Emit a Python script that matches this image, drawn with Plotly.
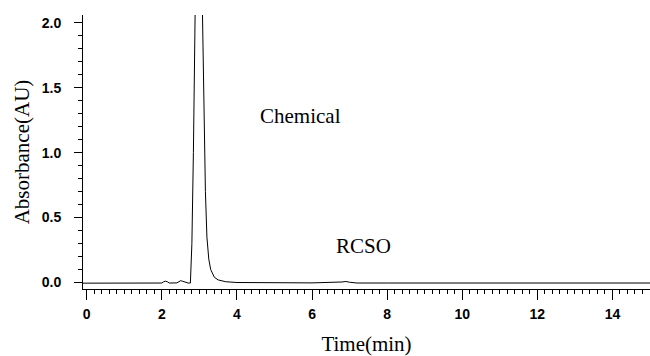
import plotly.graph_objects as go

# Chromatogram trace
time_min = [-0.1, 0.5, 1.0, 1.5, 2.0, 2.05, 2.1, 2.15, 2.2, 2.4, 2.45, 2.5, 2.55, 2.6, 2.7,
            2.76, 2.8, 2.84, 2.87, 2.9, 2.95, 3.0, 3.04, 3.08, 3.12, 3.16, 3.2, 3.25,
            3.3, 3.4, 3.5, 3.7, 4.0, 5.0, 6.0, 6.8, 6.9, 7.0, 7.2, 8.0, 10.0, 12.0, 14.0, 15.0]
absorbance = [-0.005, -0.005, -0.005, -0.005, -0.004, 0.006, 0.01, 0.005, -0.004, -0.003, 0.008,
              0.014, 0.01, 0.004, -0.004, -0.004, 0.3, 1.0, 1.8, 2.4, 2.9, 3.1, 2.8, 2.0,
              1.3, 0.7, 0.35, 0.18, 0.1, 0.04, 0.02, 0.006, 0.0, -0.003, -0.003, 0.004,
              0.008, 0.002, -0.004, -0.004, -0.004, -0.004, -0.004, -0.004]

annotations_text = ["Chemical", "RCSO"]
annotations_x = [5.68, 7.38]
annotations_y = [1.28, 0.28]

x_tickvals = [0, 2, 4, 6, 8, 10, 12, 14]
y_tickvals = [0.0, 0.5, 1.0, 1.5, 2.0]

serif = "Liberation Serif, Times New Roman, serif"
tickfam = "Liberation Sans Narrow, Arial Narrow, Liberation Sans, sans-serif"

fig = go.Figure()
fig.add_trace(go.Scatter(x=time_min, y=absorbance, mode="lines",
                         line=dict(color="black", width=1), showlegend=False))

for t, ax, ay in zip(annotations_text, annotations_x, annotations_y):
    fig.add_annotation(x=ax, y=ay, text=t, showarrow=False,
                       font=dict(family=serif, size=21, color="black"))

fig.update_layout(
    width=650, height=356,
    margin=dict(l=83, r=0, t=15, b=67),
    plot_bgcolor="white", paper_bgcolor="white",
    xaxis=dict(range=[-0.1, 15.0], tickvals=x_tickvals, tickformat="d",
               showline=True, linecolor="black", linewidth=1,
               ticks="outside", ticklen=10, tickcolor="black", tickwidth=1,
               ticklabelstandoff=2,
               minor=dict(dtick=0.2, ticks="outside", ticklen=4, tickcolor="black"),
               showgrid=False, zeroline=False,
               tickfont=dict(family=tickfam, size=14, color="black", weight="bold"),
               title=dict(text="Time(min)", standoff=17,
                          font=dict(family=serif, size=21, color="black"))),
    yaxis=dict(range=[-0.05, 2.06], tickvals=y_tickvals, tickformat=".1f",
               showline=True, linecolor="black", linewidth=1,
               ticks="outside", ticklen=8, tickcolor="black", tickwidth=1,
               ticklabelstandoff=10,
               minor=dict(dtick=0.1, ticks="outside", ticklen=4, tickcolor="black"),
               showgrid=False, zeroline=False,
               tickfont=dict(family=tickfam, size=14, color="black", weight="bold"),
               title=dict(text="Absorbance(AU)", standoff=6,
                          font=dict(family=serif, size=21, color="black"))),
)

fig.write_html("out.html")
